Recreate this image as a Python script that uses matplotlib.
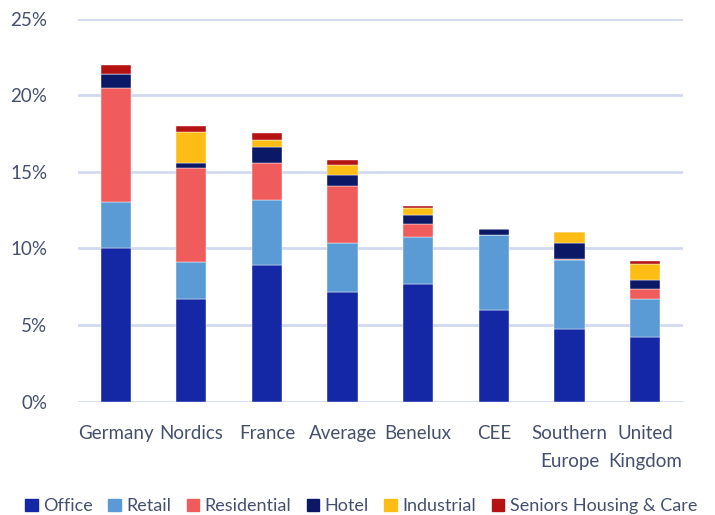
import numpy as np
import matplotlib.pyplot as plt
from matplotlib.patches import Patch

regions = ['Germany', 'Nordics', 'France', 'Average', 'Benelux', 'CEE',
           'Southern\nEurope', 'United\nKingdom']

# % share per sector (stack heights)
office = [10.0, 6.7, 8.95, 7.15, 7.7, 6.0, 4.75, 4.25]
retail = [3.0, 2.4, 4.2, 3.2, 3.05, 4.9, 4.5, 2.45]
residential = [7.5, 6.15, 2.45, 3.7, 0.85, 0.0, 0.05, 0.65]
hotel = [0.9, 0.35, 1.05, 0.75, 0.6, 0.35, 1.05, 0.6]
industrial = [0.0, 2.0, 0.45, 0.65, 0.45, 0.0, 0.7, 1.05]
seniors = [0.6, 0.4, 0.45, 0.35, 0.15, 0.0, 0.05, 0.2]

series = [('Office', office, '#1428A6'),
          ('Retail', retail, '#5B9BD5'),
          ('Residential', residential, '#F05B5B'),
          ('Hotel', hotel, '#0B1866'),
          ('Industrial', industrial, '#FDBD14'),
          ('Seniors Housing & Care', seniors, '#B41213')]

txt = '#44506E'
plt.rcParams['font.family'] = ['Lato', 'DejaVu Sans']

fig = plt.figure(figsize=(7.15, 5.15), dpi=100)
ax = fig.add_axes([0.109, 0.22, 0.846, 0.744])

x = np.arange(len(regions))
bottom = np.zeros(len(regions))
for name, vals, col in series:
    vals = np.array(vals)
    ax.bar(x, vals, 0.4, bottom=bottom, color=col, label=name, zorder=3,
           edgecolor='white', linewidth=0.3)
    bottom += vals

ax.set_ylim(0, 25)
ax.set_xlim(-0.5, len(regions) - 0.5)
ax.set_yticks(range(0, 26, 5))
ax.set_yticklabels([f'{v}%' for v in range(0, 26, 5)])
ax.set_xticks(x)
ax.set_xticklabels(regions, linespacing=1.75)
ax.grid(axis='y', color='#D3DAF0', linewidth=2, zorder=0)
for s in ax.spines.values():
    s.set_visible(False)
ax.tick_params(axis='both', length=0, labelsize=13.5, colors=txt)
ax.tick_params(axis='y', pad=22)
ax.tick_params(axis='x', pad=17)

handles = [Patch(color=c) for _, _, c in series]
leg = fig.legend(handles, [n for n, _, _ in series], loc='lower center',
                 bbox_to_anchor=(0.505, -0.03), ncol=6, frameon=False,
                 handlelength=0.7, handleheight=0.7, handletextpad=0.3,
                 columnspacing=0.85, fontsize=13)
for t in leg.get_texts():
    t.set_color(txt)

fig.savefig('out.png', dpi=100)
